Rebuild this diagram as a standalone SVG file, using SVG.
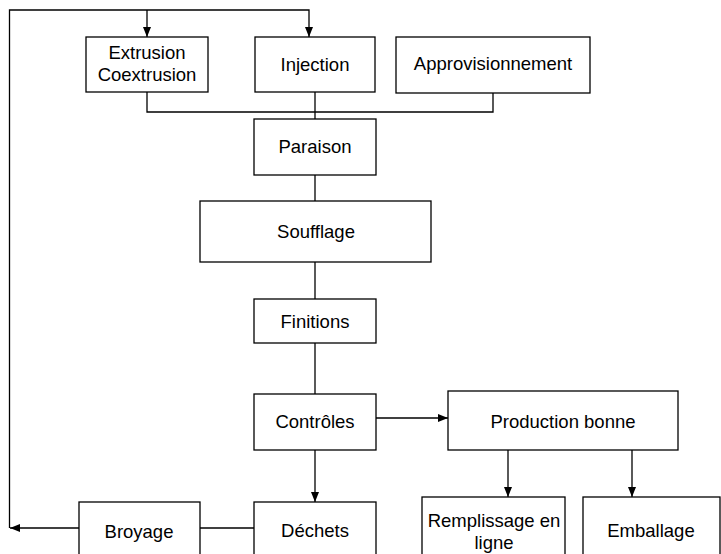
<svg xmlns="http://www.w3.org/2000/svg" width="721" height="554" viewBox="0 0 721 554">
<style>
.box{fill:#fff;stroke:#000;stroke-width:1.3}
.ln{fill:none;stroke:#000;stroke-width:1.3}
text{font-family:"Liberation Sans",Arial,sans-serif;font-size:18.5px;fill:#000;text-anchor:middle}
</style>
<defs>
<marker id="ah" viewBox="0 0 10 10" refX="10" refY="5" markerWidth="10" markerHeight="10" markerUnits="userSpaceOnUse" orient="auto">
<path d="M0,1 L10,5 L0,9 Z" fill="#000"/>
</marker>
</defs>
<rect width="721" height="554" fill="#fff"/>
<g id="connectors">
<path class="ln" d="M200,528 H10" marker-end="url(#ah)"/>
<path class="ln" d="M9.5,528 V10 H309 V37" marker-end="url(#ah)"/>
<path class="ln" d="M147,10 V37" marker-end="url(#ah)"/>
<path class="ln" d="M147,92 V112 H493 V93"/>
<path class="ln" d="M315,92 V119"/>
<path class="ln" d="M315,175 V201"/>
<path class="ln" d="M315,262 V299"/>
<path class="ln" d="M315,343 V394"/>
<path class="ln" d="M376,418 H448" marker-end="url(#ah)"/>
<path class="ln" d="M315,450 V502" marker-end="url(#ah)"/>
<path class="ln" d="M508,450 V497" marker-end="url(#ah)"/>
<path class="ln" d="M632,450 V497" marker-end="url(#ah)"/>
<path class="ln" d="M200,528 H254"/>
</g>
<g id="extrusion"><rect class="box" x="86" y="37" width="122" height="55"/><text x="147" y="59">Extrusion</text><text x="147" y="81">Coextrusion</text></g>
<g id="injection"><rect class="box" x="255" y="37" width="120" height="55"/><text x="315" y="71">Injection</text></g>
<g id="approvisionnement"><rect class="box" x="396" y="37" width="194" height="56"/><text x="493" y="70">Approvisionnement</text></g>
<g id="paraison"><rect class="box" x="254" y="119" width="122" height="56"/><text x="315" y="153">Paraison</text></g>
<g id="soufflage"><rect class="box" x="200" y="201" width="231" height="61"/><text x="316" y="238">Soufflage</text></g>
<g id="finitions"><rect class="box" x="254" y="299" width="122" height="44"/><text x="315" y="328">Finitions</text></g>
<g id="controles"><rect class="box" x="254" y="394" width="122" height="56"/><text x="315" y="428">Contrôles</text></g>
<g id="production"><rect class="box" x="448" y="391" width="230" height="59"/><text x="563" y="428">Production bonne</text></g>
<g id="broyage"><rect class="box" x="79" y="502" width="121" height="60"/><text x="139" y="538">Broyage</text></g>
<g id="dechets"><rect class="box" x="254" y="502" width="122" height="60"/><text x="315" y="537">Déchets</text></g>
<g id="remplissage"><rect class="box" x="422" y="497" width="143" height="65"/><text x="494" y="527">Remplissage en</text><text x="494" y="549">ligne</text></g>
<g id="emballage"><rect class="box" x="583" y="497" width="137" height="65"/><text x="651" y="537">Emballage</text></g>
</svg>
